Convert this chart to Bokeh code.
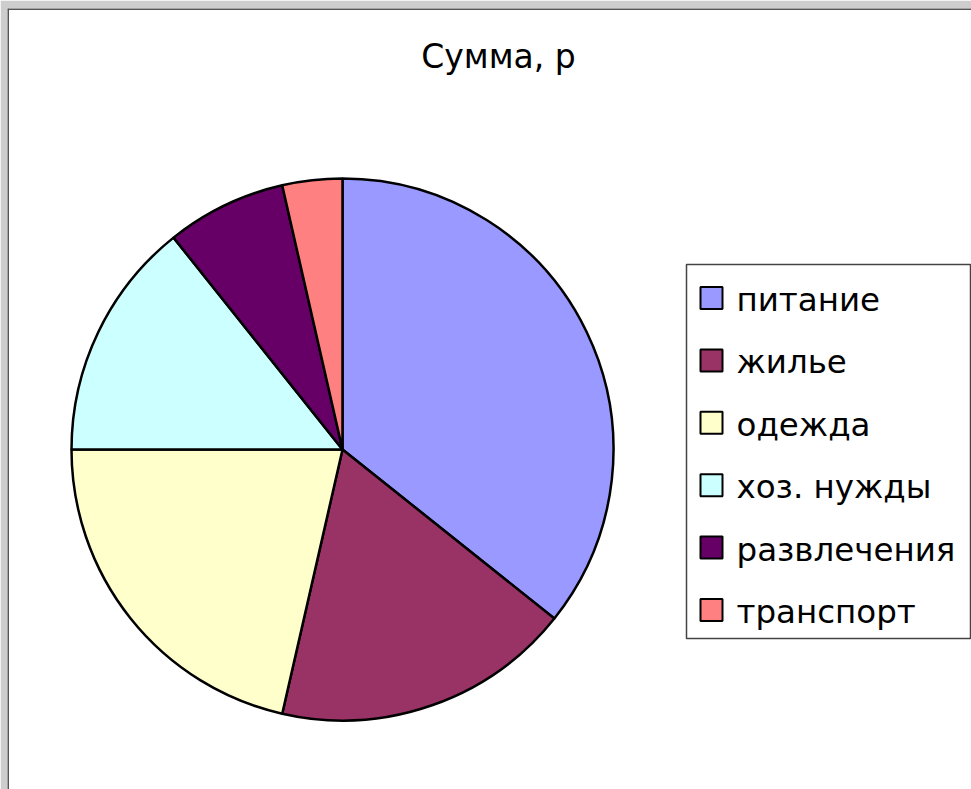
import numpy as np
from bokeh.plotting import figure
from bokeh.models import Range1d, ColumnDataSource, Span
from bokeh.core.properties import value
from bokeh.embed import file_html
from bokeh.resources import INLINE

# ---- data ----
title_text = "Сумма, р"
categories = ["питание", "жилье", "одежда", "хоз. нужды", "развлечения", "транспорт"]
amounts = [5000, 2500, 3000, 2000, 1000, 500]
colors = ["#9999FF", "#993366", "#FFFFCC", "#CCFFFF", "#660066", "#FF8080"]

W, H = 971, 789
LEFT, TOP = 7, 8
FONT = "DejaVu Sans"

def py(page_y):
    # page pixel row -> data y
    return H - page_y

p = figure(width=W, height=H, output_backend="svg", toolbar_location=None,
           x_range=Range1d(LEFT, W), y_range=Range1d(0, H - TOP),
           min_border_left=LEFT, min_border_top=TOP,
           min_border_right=0, min_border_bottom=0)
p.axis.visible = False
p.grid.visible = False
p.outline_line_color = None
p.background_fill_color = "white"
p.border_fill_color = "#cdcdcd"

# pie
vals = np.array(amounts, dtype=float)
frac = vals / vals.sum()
ends = np.cumsum(frac) * 2 * np.pi
starts = ends - frac * 2 * np.pi
src = ColumnDataSource(dict(
    start=np.pi / 2 - starts,
    end=np.pi / 2 - ends,
    color=colors,
    label=categories,
))
p.wedge(x=342, y=py(449), radius=271, start_angle="start", end_angle="end",
        direction="clock", fill_color="color", line_color="black",
        line_width=2.5, source=src)

# title
p.text(x=[498], y=[py(56)], text=[title_text], text_font=value(FONT),
       text_font_size="33px", text_align="center", text_baseline="middle",
       text_color="black")

# legend box
p.quad(left=[686], right=[970], top=[py(264)], bottom=[py(638)],
       fill_color="white", line_color="#444444", line_width=1.5)

n = len(categories)
row_y = [py(297.5 + i * 62.4) for i in range(n)]
p.rect(x=[711] * n, y=row_y, width=22, height=22, fill_color=colors,
       line_color="black", line_width=2)
p.text(x=[736] * n, y=[yy - 2 for yy in row_y], text=categories,
       text_font=value(FONT), text_font_size="32.5px", text_align="left",
       text_baseline="middle", text_color="black")

# window frame lines (top & left only)
p.add_layout(Span(location=H - TOP - 0.5, dimension="width",
                  line_color="#555555", line_width=2))
p.add_layout(Span(location=LEFT + 0.5, dimension="height",
                  line_color="#555555", line_width=2))

open("out.html", "w").write(file_html(p, INLINE))
